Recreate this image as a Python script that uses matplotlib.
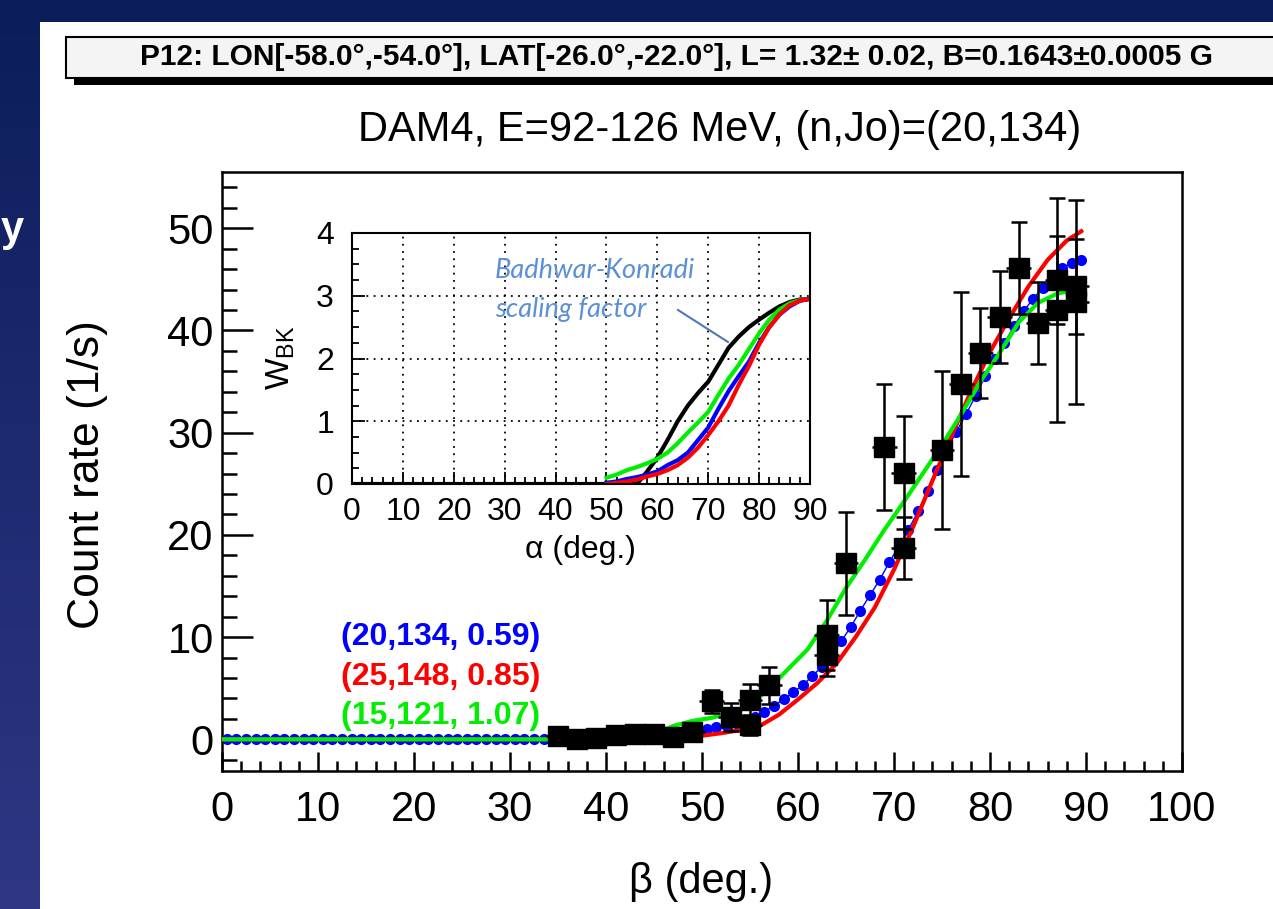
import numpy as np
import matplotlib
matplotlib.use("Agg")
import matplotlib.pyplot as plt
from matplotlib.patches import Rectangle
from matplotlib.ticker import MultipleLocator

plt.rcParams['font.family'] = ['Liberation Sans', 'DejaVu Sans']
plt.rcParams['mathtext.fontset'] = 'custom'
plt.rcParams['mathtext.rm'] = 'Liberation Sans'
plt.rcParams['mathtext.it'] = 'Liberation Sans:italic'

# measured count rates vs beta
beta = [35, 37, 39, 41, 43, 45, 47, 49, 51, 53, 55, 55, 57, 63, 63, 65, 69, 71, 71,
        75, 77, 79, 81, 83, 85, 87, 87, 89, 89]
rate = [0.3, 0.0, 0.1, 0.4, 0.5, 0.5, 0.2, 0.7, 3.7, 2.2, 3.8, 1.4, 5.3, 10.2, 8.2,
        17.2, 28.6, 26.1, 18.7, 28.3, 34.8, 37.8, 41.3, 46.1, 40.7, 44.9, 42.0, 44.3, 42.8]
rate_err = [0.3, 0.3, 0.3, 0.4, 0.4, 0.4, 0.4, 0.5, 1.1, 1.4, 1.6, 1.0, 1.8, 3.4, 2.0,
            5.0, 6.2, 5.5, 3.0, 7.7, 9.0, 4.4, 4.5, 4.5, 4.0, 4.3, 11.0, 4.6, 10.0]

# model (20,134, 0.59) - blue points, one per degree
blue_x = np.arange(0.5, 90, 1.0)
blue_y = [0.0] * 45 + [0.1, 0.2, 0.3, 0.5, 0.7, 1.0, 1.2, 1.4, 1.6, 1.8,
                       2.2, 2.7, 3.3, 3.9, 4.6, 5.3, 6.2, 7.1, 8.2, 9.6,
                       11.0, 12.6, 14.1, 15.6, 17.3, 18.9, 20.5, 22.3, 24.3, 26.3,
                       28.3, 30.1, 31.8, 33.6, 35.5, 37.2, 38.8, 40.4, 41.9, 43.1,
                       44.2, 45.2, 46.1, 46.6, 46.9]

# model (25,148, 0.85) - red
red_x = [0, 44, 46, 48, 50, 52, 54, 56, 58, 60, 62, 64, 66, 68, 70, 72, 74, 76, 78,
         80, 82, 84, 86, 88, 89.5]
red_y = [0, 0, 0.05, 0.2, 0.35, 0.6, 0.9, 1.3, 2.4, 3.9, 5.5, 7.4, 10.0, 12.9, 16.6,
         20.8, 25.3, 29.7, 34.0, 37.9, 41.2, 44.3, 46.9, 48.8, 49.7]

# model (15,121, 1.07) - green
green_x = [0, 44, 45, 46, 47, 49, 51, 53, 55, 57, 59, 61, 63, 65, 67, 69, 71, 73, 75,
           77, 79, 81, 83, 85, 87, 89.5]
green_y = [0, 0, 0.2, 0.9, 1.3, 1.8, 2.1, 2.6, 3.3, 5.0, 6.9, 8.8, 11.6, 14.8, 17.6,
           20.5, 23.2, 26.0, 28.8, 31.8, 35.0, 37.8, 40.8, 42.7, 43.6, 44.1]

# inset: Badhwar-Konradi weight vs alpha
alpha = [50, 52, 54, 56, 58, 60, 62, 64, 66, 68, 70, 72, 74, 76, 78, 80, 82, 84, 86, 88, 90]
wbk_green = [0.1, 0.15, 0.22, 0.27, 0.33, 0.4, 0.5, 0.65, 0.82, 0.98, 1.15, 1.42, 1.68,
             1.9, 2.15, 2.4, 2.62, 2.78, 2.88, 2.93, 2.95]
wbk_blue = [0.02, 0.04, 0.08, 0.11, 0.15, 0.2, 0.3, 0.38, 0.5, 0.7, 0.9, 1.2, 1.48,
            1.72, 1.95, 2.25, 2.5, 2.7, 2.83, 2.92, 2.95]
wbk_red = [0.0, 0.02, 0.04, 0.07, 0.12, 0.16, 0.22, 0.3, 0.42, 0.58, 0.78, 1.0, 1.25,
           1.58, 1.88, 2.22, 2.5, 2.7, 2.85, 2.92, 2.95]
alpha_black = [0, 50, 56, 57, 58, 60, 62, 64, 66, 68, 70, 72, 74, 76, 78, 80, 82, 84, 86, 88, 90]
wbk_black = [0, 0, 0, 0.1, 0.2, 0.42, 0.7, 1.0, 1.25, 1.45, 1.63, 1.9, 2.17, 2.35, 2.5,
             2.62, 2.73, 2.83, 2.9, 2.94, 2.95]

legend_labels = ['(20,134, 0.59)', '(25,148, 0.85)', '(15,121, 1.07)']
legend_colors = ['#0000ff', '#ff0000', '#00ee00']

W, H = 1273, 909
fig = plt.figure(figsize=(W / 100, H / 100), dpi=100)

# slide background
bg = fig.add_axes([0, 0, 1, 1], zorder=0)
grad = np.linspace(0, 1, 256).reshape(-1, 1)
cmap = matplotlib.colors.LinearSegmentedColormap.from_list('slide', ['#0b1d5b', '#2f3784'])
bg.imshow(grad, aspect='auto', cmap=cmap, extent=[0, W, H, 0])
bg.set_xlim(0, W)
bg.set_ylim(H, 0)
bg.axis('off')
bg.add_patch(Rectangle((40, 22), W, H, facecolor='white', edgecolor='none'))
bg.text(1, 230, 'y', color='white', fontsize=30, fontweight='bold', va='center', ha='left')

# header box with shadow
bg.add_patch(Rectangle((74, 76), W, 9, facecolor='black', edgecolor='none'))
bg.add_patch(Rectangle((66, 37), W, 41, facecolor='#f4f4f4', edgecolor='black', lw=1.5))
bg.text(677, 57, 'P12: LON[-58.0°,-54.0°], LAT[-26.0°,-22.0°], L= 1.32± 0.02, B=0.1643±0.0005 G',
        fontsize=21.5, fontweight='bold', ha='center', va='center')

bg.text(720, 130, 'DAM4, E=92-126 MeV, (n,Jo)=(20,134)', fontsize=30, ha='center', va='center')
bg.text(88, 475, 'Count rate (1/s)', fontsize=32, rotation=90, ha='center', va='center')
bg.text(701, 882, 'β (deg.)', fontsize=30, ha='center', va='center')

# main plot
ax = fig.add_axes([222 / W, 1 - 771 / H, 960 / W, 599 / H], zorder=1)
ax.plot(blue_x, blue_y, '-', color='#0000ff', lw=1, marker='o', ms=8, mec='none', zorder=2)
ax.plot(red_x, red_y, color='#ff0000', lw=3, zorder=3)
ax.plot(green_x, green_y, color='#00ee00', lw=3, zorder=4)
ax.errorbar(beta, rate, yerr=rate_err, fmt='none', ecolor='black', elinewidth=1.8,
            capsize=6, capthick=1.8, zorder=5)
ax.errorbar(beta, rate, xerr=1.3, fmt='s', color='black', ms=15, elinewidth=1.8,
            capsize=0, zorder=6)

ax.set_xlim(0, 100)
ax.set_ylim(-3.1, 55.5)
ax.xaxis.set_major_locator(MultipleLocator(10))
ax.xaxis.set_minor_locator(MultipleLocator(2))
ax.yaxis.set_major_locator(MultipleLocator(10))
ax.yaxis.set_minor_locator(MultipleLocator(2))
ax.tick_params(which='both', direction='in', top=False, right=False, labelsize=30, width=1.8)
ax.tick_params(axis='x', which='major', length=14, pad=14)
ax.tick_params(axis='x', which='minor', length=7)
ax.tick_params(axis='y', which='major', length=22, pad=6)
ax.tick_params(axis='y', which='minor', length=11)
for s in ax.spines.values():
    s.set_linewidth(1.8)

# inset
ins = fig.add_axes([352 / W, 1 - 484 / H, 458 / W, 251 / H], zorder=2)
ins.plot(alpha_black, wbk_black, color='black', lw=3)
ins.plot(alpha, wbk_green, color='#00ee00', lw=3)
ins.plot(alpha, wbk_blue, color='#0000ff', lw=3)
ins.plot(alpha, wbk_red, color='#ff0000', lw=3)
ins.set_xlim(0, 90)
ins.set_ylim(0, 4)
ins.xaxis.set_major_locator(MultipleLocator(10))
ins.xaxis.set_minor_locator(MultipleLocator(2))
ins.yaxis.set_major_locator(MultipleLocator(1))
ins.yaxis.set_minor_locator(MultipleLocator(0.25))
ins.grid(True, which='major', color='black', linestyle=(0, (1, 3)), lw=1.3)
ins.tick_params(which='both', direction='in', top=False, right=False, labelsize=23, width=1.3)
ins.tick_params(axis='x', which='major', length=9, pad=9)
ins.tick_params(axis='x', which='minor', length=5)
ins.tick_params(axis='y', which='major', length=9, pad=13)
ins.tick_params(axis='y', which='minor', length=5)
for s in ins.spines.values():
    s.set_linewidth(1.5)

# overlay layer for texts drawn over the plot areas
top = fig.add_axes([0, 0, 1, 1], zorder=5)
top.set_xlim(0, W)
top.set_ylim(H, 0)
top.axis('off')
top.patch.set_alpha(0)

for i, (lab, col) in enumerate(zip(legend_labels, legend_colors)):
    top.text(341, 637 + 39.5 * i, lab, color=col, fontsize=23, fontweight='bold',
             ha='left', va='center')

top.text(281, 358, r'W$_{\rm BK}$', fontsize=24, rotation=90, ha='center', va='center')
top.text(580, 550, 'α (deg.)', fontsize=23, ha='center', va='center')

top.text(495, 270, 'Badhwar-Konradi', color='#5b8fd6', fontsize=19.5, style='italic',
         family=['Lato', 'DejaVu Sans'], ha='left', va='center')
top.text(495, 309, 'scaling factor', color='#5b8fd6', fontsize=19.5, style='italic',
         family=['Lato', 'DejaVu Sans'], ha='left', va='center')
top.plot([678, 728], [310, 342], color='#4a7ab8', lw=1.5)

fig.savefig('out.png', dpi=100)
